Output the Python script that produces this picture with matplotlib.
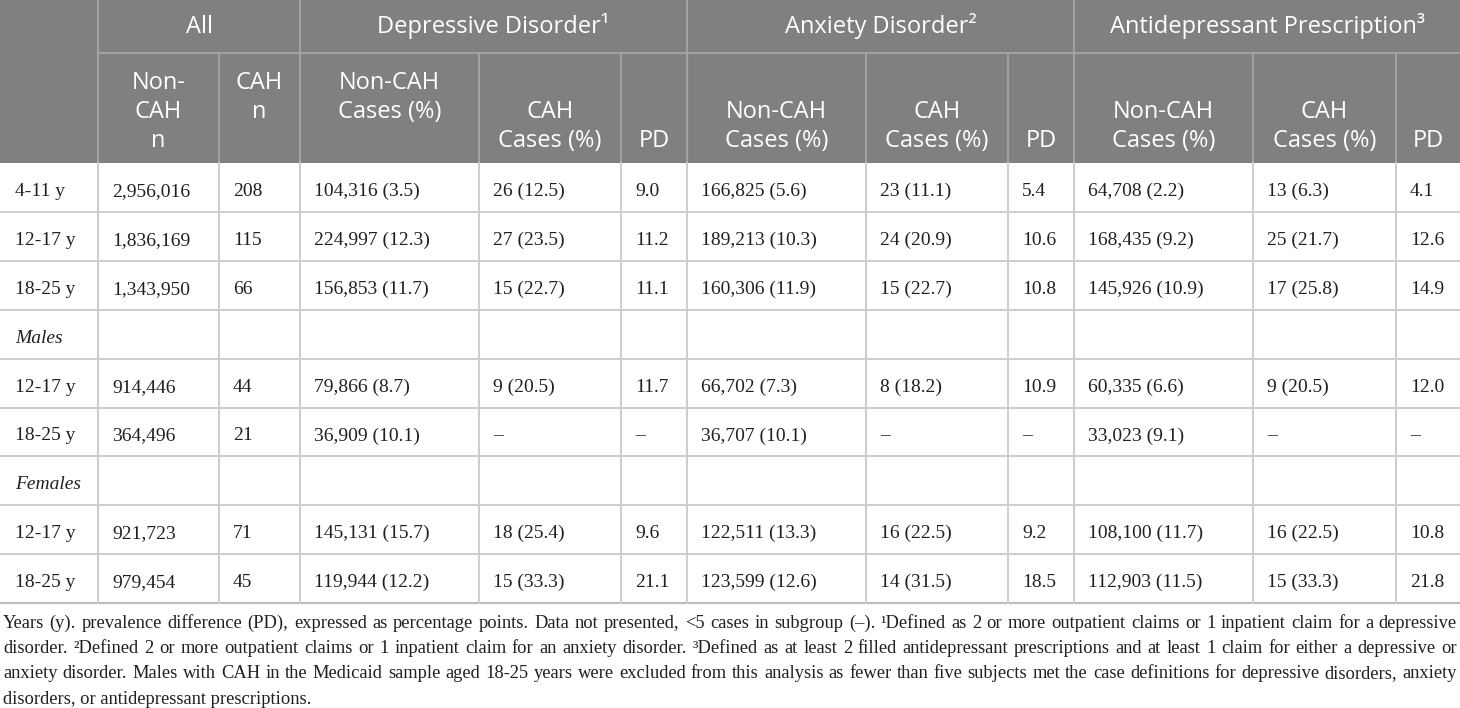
import matplotlib.pyplot as plt
from matplotlib.patches import Rectangle

row_labels = ['4-11 y', '12-17 y', '18-25 y', 'Males', '12-17 y', '18-25 y',
              'Females', '12-17 y', '18-25 y']
italic_rows = ['Males', 'Females']

noncah_n = ['2,956,016', '1,836,169', '1,343,950', '', '914,446', '364,496', '', '921,723', '979,454']
cah_n = ['208', '115', '66', '', '44', '21', '', '71', '45']
dep_noncah = ['104,316 (3.5)', '224,997 (12.3)', '156,853 (11.7)', '', '79,866 (8.7)',
              '36,909 (10.1)', '', '145,131 (15.7)', '119,944 (12.2)']
dep_cah = ['26 (12.5)', '27 (23.5)', '15 (22.7)', '', '9 (20.5)', '–', '', '18 (25.4)', '15 (33.3)']
dep_pd = ['9.0', '11.2', '11.1', '', '11.7', '–', '', '9.6', '21.1']
anx_noncah = ['166,825 (5.6)', '189,213 (10.3)', '160,306 (11.9)', '', '66,702 (7.3)',
              '36,707 (10.1)', '', '122,511 (13.3)', '123,599 (12.6)']
anx_cah = ['23 (11.1)', '24 (20.9)', '15 (22.7)', '', '8 (18.2)', '–', '', '16 (22.5)', '14 (31.5)']
anx_pd = ['5.4', '10.6', '10.8', '', '10.9', '–', '', '9.2', '18.5']
ad_noncah = ['64,708 (2.2)', '168,435 (9.2)', '145,926 (10.9)', '', '60,335 (6.6)',
             '33,023 (9.1)', '', '108,100 (11.7)', '112,903 (11.5)']
ad_cah = ['13 (6.3)', '25 (21.7)', '17 (25.8)', '', '9 (20.5)', '–', '', '16 (22.5)', '15 (33.3)']
ad_pd = ['4.1', '12.6', '14.9', '', '12.0', '–', '', '10.8', '21.8']

groups = ['All', 'Depressive Disorder¹', 'Anxiety Disorder²', 'Antidepressant Prescription³']
sub_headers = [['Non-', 'CAH', 'n'], ['CAH', 'n'],
               ['Non-CAH', 'Cases (%)'], ['CAH', 'Cases (%)'], ['PD'],
               ['Non-CAH', 'Cases (%)'], ['CAH', 'Cases (%)'], ['PD'],
               ['Non-CAH', 'Cases (%)'], ['CAH', 'Cases (%)'], ['PD']]

footnote = [
    "Years (y). prevalence difference (PD), expressed as percentage points. Data not presented, <5 cases in "
    "subgroup (–). ¹Defined as 2 or more outpatient claims or 1 inpatient claim for a depressive",
    "disorder. ²Defined 2 or more outpatient claims or 1 inpatient claim for an anxiety disorder. ³Defined as "
    "at least 2 filled antidepressant prescriptions and at least 1 claim for either a depressive or",
    "anxiety disorder. Males with CAH in the Medicaid sample aged 18-25 years were excluded from this analysis "
    "as fewer than five subjects met the case definitions for depressive disorders, anxiety",
    "disorders, or antidepressant prescriptions.",
]

columns = [noncah_n, cah_n, dep_noncah, dep_cah, dep_pd, anx_noncah, anx_cah, anx_pd,
           ad_noncah, ad_cah, ad_pd]

# layout (pixels)
W, H = 1460, 708
col_x = [0, 98, 219, 300, 479, 621, 687, 866, 1008, 1074, 1253, 1396, 1460]
group_x = [98, 300, 687, 1074, 1460]
head1_bot, head_bot, row_h = 53, 163, 48.9
header_bg = '#808080'
header_line = '#a2a2a2'
grid_col = '#cdcdcd'
txt_col = '#231f20'
sans = 'Open Sans'
serif = 'Liberation Serif'
note_size = 13.3

fig = plt.figure(figsize=(W / 100, H / 100), dpi=100)
ax = fig.add_axes([0, 0, 1, 1])
ax.set_xlim(0, W)
ax.set_ylim(H, 0)
ax.axis('off')

# header block
ax.add_patch(Rectangle((0, 0), W, head_bot, color=header_bg, lw=0))
ax.plot([group_x[0], W], [head1_bot, head1_bot], color=header_line, lw=1.5)
for x in group_x[:-1]:
    ax.plot([x, x], [0, head_bot], color=header_line, lw=1.5)
for x in col_x[1:-1]:
    ax.plot([x, x], [head1_bot, head_bot], color=header_line, lw=1.5)

for i, g in enumerate(groups):
    ax.text((group_x[i] + group_x[i + 1]) / 2, 33, g, ha='center', va='baseline',
            color='white', fontsize=17, family=sans)

# sub-header baselines: first three cells hang from top, the rest sit at the bottom
for j, lines in enumerate(sub_headers):
    cx = (col_x[j + 1] + col_x[j + 2]) / 2
    if j in (0, 1, 2):
        bases = [89, 118, 147][:len(lines)]
    else:
        bases = [147 - 29 * (len(lines) - 1 - k) for k in range(len(lines))]
    for line, b in zip(lines, bases):
        ax.text(cx, b, line, ha='center', va='baseline', color='white',
                fontsize=17, family=sans)

# body grid
n_rows = len(row_labels)
for r in range(1, n_rows + 1):
    y = head_bot + r * row_h
    ax.plot([0, W], [y, y], color='#bdbdbd' if r == n_rows else grid_col,
            lw=1.6 if r == n_rows else 1.4)
for x in col_x[1:-1]:
    ax.plot([x, x], [head_bot, head_bot + n_rows * row_h], color=grid_col, lw=1.4)

# body text
for r, lab in enumerate(row_labels):
    base = head_bot + r * row_h + 33
    ax.text(15, base, lab, ha='left', va='baseline', color=txt_col, fontsize=14,
            family=serif, style='italic' if lab in italic_rows else 'normal')
    for c, vals in enumerate(columns):
        if vals[r]:
            ax.text(col_x[c + 1] + 14, base, vals[r], ha='left', va='baseline',
                    color=txt_col, fontsize=14, family=serif)

# footnote, justified except for the last line
fig.canvas.draw()
renderer = fig.canvas.get_renderer()
left, right = 3, 1457
for i, line in enumerate(footnote):
    base = 628 + i * 25.2
    if i == len(footnote) - 1:
        ax.text(left, base, line, ha='left', va='baseline', color=txt_col,
                fontsize=note_size, family=serif)
        continue
    words = line.split(' ')
    objs = [ax.text(0, base, w, ha='left', va='baseline', color=txt_col,
                    fontsize=note_size, family=serif) for w in words]
    widths = [o.get_window_extent(renderer).width for o in objs]
    gap = (right - left - sum(widths)) / (len(words) - 1)
    x = left
    for o, w in zip(objs, widths):
        o.set_x(x)
        x += w + gap

fig.savefig('out.png', dpi=100)
